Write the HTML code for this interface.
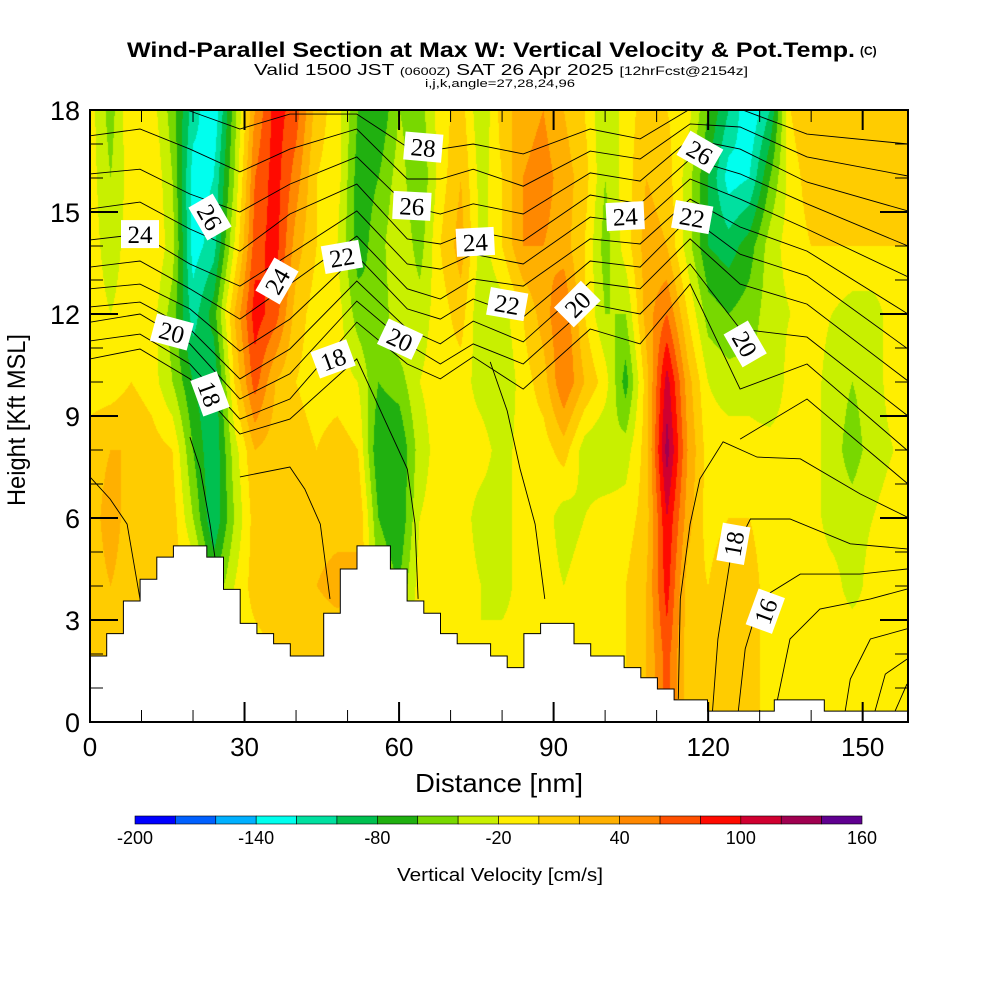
<!DOCTYPE html>
<html><head><meta charset="utf-8">
<style>
html,body{margin:0;padding:0;background:#fff;}
#wrap{position:relative;width:1000px;height:1000px;overflow:hidden;background:#fff;}
#field{position:absolute;left:90px;top:110px;}
#ov{position:absolute;left:0;top:0;}
text{font-family:"Liberation Sans",Arial,sans-serif;}
.lbl{font-family:"Liberation Serif",serif;font-size:25px;}
</style></head>
<body>
<div id="wrap">
<canvas id="field" width="818" height="612"></canvas>
<svg id="ov" width="1000" height="1000" xmlns="http://www.w3.org/2000/svg">
<defs><clipPath id="plotclip"><rect x="90" y="110" width="818" height="612"/></clipPath></defs>
<g>
<text x="127" y="57" font-size="21" font-weight="bold" textLength="728" lengthAdjust="spacingAndGlyphs">Wind-Parallel Section at Max W: Vertical Velocity &amp; Pot.Temp.</text>
<text x="860" y="55" font-size="12" font-weight="bold">(C)</text>
<text x="254" y="75" font-size="16" textLength="494" lengthAdjust="spacingAndGlyphs">Valid 1500 JST <tspan font-size="11">(0600Z)</tspan> SAT 26 Apr 2025 <tspan font-size="12">[12hrFcst@2154z]</tspan></text>
<text x="500" y="87" font-size="11" text-anchor="middle" textLength="150" lengthAdjust="spacingAndGlyphs">i,j,k,angle=27,28,24,96</text>
</g>
<g id="contours" clip-path="url(#plotclip)"></g>
<g id="terrain"></g>
<g id="labels"></g>
<g id="axes"></g>
<g id="cbar"></g>
<text x="25" y="420" font-size="25" text-anchor="middle" transform="rotate(-90 25 420)" textLength="172" lengthAdjust="spacingAndGlyphs">Height [Kft MSL]</text>
<text x="499" y="792" font-size="26" text-anchor="middle" textLength="168" lengthAdjust="spacingAndGlyphs">Distance [nm]</text>
<text x="500" y="881" font-size="18" text-anchor="middle" textLength="206" lengthAdjust="spacingAndGlyphs">Vertical Velocity [cm/s]</text>
</svg>
</div>
<script>
// ---- data ----
const gridNm = [0,4,8,12,16,20,24,28,32,36,40,44,48,52,56,60,64,68,72,76,80,84,88,92,96,100,104,108,112,116,120,124,128,132,136,140,144,148,152,156,160];
const gridKft = [18,16,14,12,10,8,6,4,2,0];
const wRow18 = [-10,-50,0,-10,-50,-110,-140,-50,40,90,70,10,-10,-60,-80,-40,-50,-10,10,-40,10,30,40,20,0,-40,-10,10,0,-10,-60,-100,-140,-100,0,20,10,20,20,10,10];
const wRow16 = [-10,-40,-10,0,-40,-130,-120,-40,60,90,50,0,-10,-70,-60,-30,-60,-10,20,-30,0,40,50,30,10,-40,-10,20,10,-30,-80,-130,-120,-60,-10,10,20,20,10,0,0];
const wRow14 = [-10,-30,-10,0,-30,-130,-110,-20,70,90,30,0,-20,-70,-50,-20,-50,0,30,-30,0,40,40,30,0,-50,-10,30,20,-30,-80,-90,-70,-30,-10,0,0,0,0,0,0];
const wRow12 = [-10,-20,-10,-10,-50,-110,-70,20,90,70,10,-10,-10,-50,-60,-20,-30,-10,10,-40,-30,0,30,60,0,-40,-40,30,60,0,-50,-60,-50,-30,-20,-10,-20,-30,-30,-10,-10];
const wRow10 = [-10,-10,0,-10,-40,-80,-100,0,70,20,0,-10,-10,-20,-60,-50,-20,-10,-10,-30,-40,-10,10,60,20,-10,-70,10,110,30,-20,-30,-30,-40,-10,-10,-30,-40,-30,-10,-10];
const wRow8 = [10,20,20,10,0,-60,-100,-30,20,10,10,0,10,0,-80,-80,-30,-10,-10,-10,-30,-10,-10,10,-30,-40,-30,10,130,40,-10,-10,-10,-10,-10,-10,-30,-50,-30,-20,-10];
const wRow6 = [10,30,10,10,10,-40,-100,-40,10,10,20,10,10,20,-60,-80,-20,-10,-10,-30,-30,-10,-10,-30,-20,-10,-10,10,100,30,-10,0,0,-10,-10,-10,-30,-30,-20,-10,-10];
const wRow4 = [10,20,10,10,10,0,-60,-20,10,20,10,20,30,20,-40,-60,-10,-10,-10,-20,-30,-10,-10,-20,-10,-10,0,20,90,10,0,20,10,-10,-10,-10,-10,-30,-10,-10,-10];
const wRow2 = [10,10,10,10,10,10,-10,-10,-10,0,10,0,0,0,-10,-10,-10,-10,-10,-20,-10,-10,-10,-10,-10,-10,0,20,70,10,0,10,10,-10,-10,-10,-10,0,-10,-10,-10];
const wRow0 = [10,10,10,10,10,10,-10,-10,-10,0,10,0,0,0,-10,-10,-10,-10,-10,-20,-10,-10,-10,-10,-10,-10,0,20,70,10,0,10,10,-10,-10,-10,-10,0,-10,-10,-10];
const wLevels = [-200,-180,-160,-140,-120,-100,-80,-60,-40,-20,0,20,40,60,80,100,120,140,160];
const wColors = ['#0000ff','#0060ff','#00b0ff','#00ffee','#00e0a0','#00c050','#20b010','#78d800','#c8f000','#ffee00','#ffcc00','#ffb000','#ff8800','#ff5000','#ff0a00','#d00030','#a00050','#600090'];
const cbarTicks = [-200,-140,-80,-20,40,100,160];
const terrainStepNm = 3.24;
const terrainKft = [1.94,2.6,3.56,4.2,4.85,5.18,5.18,4.85,3.9,2.9,2.6,2.3,1.94,1.94,3.2,4.5,5.18,5.18,4.5,3.56,3.2,2.6,2.3,2.3,1.94,1.6,2.6,2.9,2.9,2.3,1.94,1.94,1.6,1.3,0.97,0.65,0.65,0.32,0.32,0.32,0.32,0.65,0.65,0.65,0.32,0.32,0.32,0.32,0.32];
const thetaNodesNm = [0,9.7,19.4,29.1,38.8,51.8,61.6,68,74.4,84.1,97.1,106.8,116.5,126.2,139.2,158.8];
const thetaLevels = [28,27,26,25,24,23,22,21,20,19,18];
const th28 = [18.32,18.47,17.97,17.44,17.88,17.88,16.91,16.85,17.0,16.71,17.44,17.15,18.03,18.03,17.29,17.0];
const th27 = [17.24,17.44,16.85,16.18,16.85,17.44,15.97,15.97,16.26,15.76,16.79,16.56,17.59,17.5,16.62,16.06];
const th26 = [16.12,16.26,15.53,15.0,15.82,16.62,15.18,14.94,15.24,14.94,16.15,15.91,17.15,16.85,15.88,15.03];
const th25 = [15.09,15.29,14.5,13.85,14.94,15.82,14.21,14.06,14.44,14.15,15.5,15.24,16.56,16.12,15.24,14.0];
const th24 = [14.18,14.35,13.47,12.82,13.76,15.03,13.47,13.32,13.76,13.47,14.85,14.65,15.97,15.38,14.5,13.09];
const th23 = [13.38,13.56,12.74,11.85,12.88,14.29,12.74,12.44,13.03,12.82,14.21,14.06,15.38,14.56,13.85,12.0];
const th22 = [12.74,12.88,12.15,10.91,11.85,13.71,12.15,11.85,12.44,11.91,13.56,13.38,14.85,13.76,13.12,10.97];
const th21 = [12.21,12.35,11.56,10.09,10.97,12.97,11.56,11.12,11.79,11.18,12.94,12.74,14.21,12.88,12.29,10.03];
const th20 = [11.76,12.0,11.12,9.5,10.24,12.38,11.12,10.53,11.12,10.53,12.29,12.0,13.47,11.56,11.32,9.0];
const th19 = [11.21,11.41,10.53,8.91,9.5,11.76,10.53,10.09,10.74,9.79,11.56,11.12,12.88,9.79,10.53,7.97];
const th18 = [10.68,10.97,10.09,8.47,8.91,10.68,7.44,null,null,null,null,null,null,8.32,9.5,7.0];
const extraNm = [[0,3.9,7.2,9.7],[19.4,21.4,23.3,24.3],[29.1,38.8,41.7,44.7,46.6],[61.6,63.1,63.7],[77.7,81,83.5,86.4,88.3],[158.6,149.5,137.9,129.5,122.9,118.4,116.5,114.6,114.2],[158.6,147.6,135.9,128.2,124.3,121.9,120.8],[158.6,149.5,137.9,130.1,127.2,125.8],[158.6,151.5,141.7,135.9,133],[158.6,151.5,147.6,146.6],[158.6,154.4,152.4],[158.6,156.3]];
const extraKft = [[7.21,6.56,5.82,3.62],[8.38,7.44,5.82,4.79],[7.21,7.5,6.85,5.82,3.62],[7.44,5.82,3.62],[10.59,9.15,7.44,5.82,3.62],[6.03,6.71,7.74,7.79,8.24,7.15,5.82,3.62,0.68],[5.09,5.24,5.97,5.97,4.79,2.44,0.24],[4.5,4.35,4.35,3.62,2.15,0.24],[3.91,3.62,3.32,2.44,0.32],[2.74,2.44,1.26,0.32],[1.85,1.41,0.32],[1.12,0.32]];
const labelText = ['24','26','20','18','24','22','18','20','28','26','24','22','20','24','22','26','20','18','16'];
const labelNm = [9.7,23.3,15.9,23.3,36.3,48.9,47.2,60.2,64.7,62.5,74.8,81,94.6,103.9,116.9,118.4,127.2,124.9,131.1];
const labelKft = [14.35,14.85,11.47,9.65,12.97,13.68,10.68,11.26,16.91,15.18,14.12,12.29,12.29,14.88,14.85,16.76,11.12,5.24,3.26];
const labelRot = [0,60,15,70,-60,-10,-20,25,5,3,-3,10,-45,-3,10,30,60,-80,-70];
const xTicks = [0,30,60,90,120,150];
const yTicks = [0,3,6,9,12,15,18];

// ---- scales ----
const X0=90,X1=908,Y0=722,Y1=110,NM_MAX=158.8,KFT_MAX=18;
const sx = nm => X0 + nm/NM_MAX*(X1-X0);
const sy = k => Y0 - k/KFT_MAX*(Y0-Y1);
const NS='http://www.w3.org/2000/svg';
function mk(tag, parent, attrs){const e=document.createElementNS(NS,tag);for(const k in attrs)e.setAttribute(k,attrs[k]);parent.appendChild(e);return e;}

// ---- field ----
const wRows=[wRow18,wRow16,wRow14,wRow12,wRow10,wRow8,wRow6,wRow4,wRow2,wRow0];
const cv=document.getElementById('field'),ctx=cv.getContext('2d');
const W=cv.width,H=cv.height,img=ctx.createImageData(W,H);
const rgb=wColors.map(c=>[parseInt(c.substr(1,2),16),parseInt(c.substr(3,2),16),parseInt(c.substr(5,2),16)]);
const dNm=gridNm[1]-gridNm[0], dK=gridKft[0]-gridKft[1];
for(let py=0;py<H;py++){
  const k=KFT_MAX*(1-(py+0.5)/H);
  let rf=(gridKft[0]-k)/dK; let r0=Math.min(Math.floor(rf),gridKft.length-2); const fr=rf-r0;
  for(let px=0;px<W;px++){
    const nm=NM_MAX*(px+0.5)/W;
    let cf=(nm-gridNm[0])/dNm; let c0=Math.min(Math.floor(cf),gridNm.length-2); const fc=cf-c0;
    const v=(wRows[r0][c0]*(1-fc)+wRows[r0][c0+1]*fc)*(1-fr)+(wRows[r0+1][c0]*(1-fc)+wRows[r0+1][c0+1]*fc)*fr;
    let bi=0; while(bi<wColors.length-1 && v>=wLevels[bi+1]) bi++;
    const c=rgb[bi],o=(py*W+px)*4; img.data[o]=c[0];img.data[o+1]=c[1];img.data[o+2]=c[2];img.data[o+3]=255;
  }
}
ctx.putImageData(img,0,0);

// ---- contours ----
const gC=document.getElementById('contours');
const thRows=[th28,th27,th26,th25,th24,th23,th22,th21,th20,th19,th18];
thRows.forEach((row,li)=>{
  let d='',pen=false;
  row.forEach((v,i)=>{ if(v===null){pen=false;return;} d+=(pen?'L':'M')+sx(thetaNodesNm[i]).toFixed(1)+' '+sy(v).toFixed(1)+' '; pen=true; });
  const p=mk('path',gC,{d:d,fill:'none',stroke:'#000','stroke-width':'0.9'});
  
  
});
extraNm.forEach((xs,i)=>{
  const d=xs.map((x,j)=>(j?'L':'M')+sx(x).toFixed(1)+' '+sy(extraKft[i][j]).toFixed(1)).join(' ');
  const p=mk('path',gC,{d:d,fill:'none',stroke:'#000','stroke-width':'0.9'});
  
  
});

// ---- terrain ----
const gT=document.getElementById('terrain');
let td='M'+sx(0)+' '+sy(0);
terrainKft.forEach((h,i)=>{const a=i*terrainStepNm,b=Math.min((i+1)*terrainStepNm,NM_MAX);td+=' L'+sx(a).toFixed(1)+' '+sy(h).toFixed(1)+' L'+sx(b).toFixed(1)+' '+sy(h).toFixed(1);});
td+=' L'+sx(NM_MAX)+' '+sy(0)+' Z';
const tp=mk('path',gT,{d:td,fill:'#fff',stroke:'#000','stroke-width':'1'});



// ---- labels ----
const gL=document.getElementById('labels');
labelText.forEach((t,i)=>{
  const cx=sx(labelNm[i]),cy=sy(labelKft[i]);
  const g=mk('g',gL,{transform:'translate('+cx.toFixed(1)+' '+cy.toFixed(1)+') rotate('+labelRot[i]+')'});
  
  
  mk('rect',g,{x:-19,y:-14,width:38,height:28,fill:'#fff'});
  const tx=mk('text',g,{x:0,y:9,'text-anchor':'middle',class:'lbl'}); tx.textContent=t;
});

// ---- axes ----
const gA=document.getElementById('axes');
for(let n=0;n<=NM_MAX;n+=10){
  const major=n%30===0, len=major?20:12, x=sx(n);
  mk('line',gA,{x1:x,y1:Y0,x2:x,y2:Y0-len,stroke:'#000','stroke-width':major?2:1});
  mk('line',gA,{x1:x,y1:Y1,x2:x,y2:Y1+len,stroke:'#000','stroke-width':major?2:1});
}
for(let k=0;k<=KFT_MAX;k+=1){
  const major=k%3===0,len=major?28:13,y=sy(k);
  mk('line',gA,{x1:X0,y1:y,x2:X0+len,y2:y,stroke:'#000','stroke-width':major?2:1});
  mk('line',gA,{x1:X1,y1:y,x2:X1-len,y2:y,stroke:'#000','stroke-width':major?2:1});
}
const fr=mk('rect',gA,{x:X0,y:Y1,width:X1-X0,height:Y0-Y1,fill:'none',stroke:'#000','stroke-width':'2'});


xTicks.forEach(v=>{const t=mk('text',gA,{x:sx(v),y:756,'font-size':'26','text-anchor':'middle'});t.textContent=v;
  
  });
yTicks.forEach(v=>{const t=mk('text',gA,{x:80,y:sy(v)+10,'font-size':'27','text-anchor':'end'});t.textContent=v;
  
  });

// ---- colorbar ----
const gB=document.getElementById('cbar');
const CB0=135,CB1=862,cbx=v=>CB0+(v-wLevels[0])/(wLevels[wLevels.length-1]-wLevels[0])*(CB1-CB0);
wColors.forEach((c,i)=>{const r=mk('rect',gB,{x:cbx(wLevels[i]),y:816,width:cbx(wLevels[i+1])-cbx(wLevels[i]),height:8,fill:c,stroke:'#000','stroke-width':'0.6'});
  
  });
cbarTicks.forEach(v=>{const t=mk('text',gB,{x:cbx(v),y:844,'font-size':'18','text-anchor':'middle'});t.textContent=v;
  
  });
</script>
</body></html>
